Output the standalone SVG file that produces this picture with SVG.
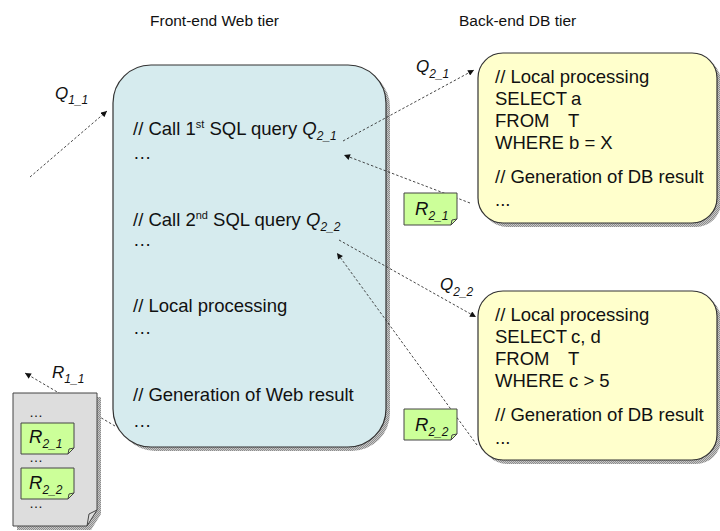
<svg xmlns="http://www.w3.org/2000/svg" width="720" height="531" viewBox="0 0 720 531">
<style>
text{font-family:"Liberation Sans",Arial,sans-serif;fill:#111}
.t{font-size:15.5px}
.b{font-size:18.5px}
.i{font-style:italic}
.sub{font-size:12px;font-style:italic}
.sup{font-size:11px}
.conn{fill:none;stroke:#333;stroke-width:0.9;stroke-dasharray:2.5 2}
.web{fill:#D6EBEE;stroke:#333;stroke-width:1.2}
.db{fill:#FFFFCC;stroke:#333;stroke-width:1.2}
.res{fill:#CCFF99;stroke:#444;stroke-width:1}
.doc{fill:#DDDDDD;stroke:#444;stroke-width:1}
.sh{fill:url(#hatch)}
</style>
<defs>
<pattern id="hatch" width="2" height="2" patternUnits="userSpaceOnUse">
<rect width="2" height="2" fill="#C8C8C8"/>
<rect width="1" height="1" fill="#8C8C8C"/>
<rect x="1" y="1" width="1" height="1" fill="#8C8C8C"/>
</pattern>
<marker id="ah" viewBox="0 0 10 10" refX="10" refY="5" markerWidth="7" markerHeight="6" markerUnits="userSpaceOnUse" orient="auto">
<path d="M0,0 L10,5 L0,10 z" fill="#111"/>
</marker>
</defs>

<g id="titles">
<text class="t" x="150" y="26">Front-end Web tier</text>
<text class="t" x="459" y="26">Back-end DB tier</text>
</g>

<g id="web-tier">
<rect class="sh" x="117" y="69" width="273" height="382" rx="38" ry="38"/>
<rect class="web" x="113" y="65" width="273" height="382" rx="38" ry="38"/>
<text class="b" x="133" y="135">// Call 1<tspan class="sup" dy="-7">st</tspan><tspan dy="7"> SQL query </tspan><tspan class="i">Q</tspan><tspan class="sub" dy="5">2_1</tspan></text>
<text class="b" x="133" y="159">…</text>
<text class="b" x="133" y="226">// Call 2<tspan class="sup" dy="-7">nd</tspan><tspan dy="7"> SQL query </tspan><tspan class="i">Q</tspan><tspan class="sub" dy="5">2_2</tspan></text>
<text class="b" x="133" y="246">…</text>
<text class="b" x="133" y="312">// Local processing</text>
<text class="b" x="133" y="334">…</text>
<text class="b" x="133" y="401">// Generation of Web result</text>
<text class="b" x="133" y="427">…</text>
</g>

<g id="db1">
<rect class="sh" x="482" y="57" width="239" height="170" rx="25" ry="25"/>
<rect class="db" x="478" y="53" width="239" height="170" rx="25" ry="25"/>
<text class="b" x="495" y="83">// Local processing</text>
<text class="b" x="495" y="105">SELECT<tspan x="571">a</tspan></text>
<text class="b" x="495" y="127">FROM<tspan x="568">T</tspan></text>
<text class="b" x="495" y="149">WHERE b = X</text>
<text class="b" x="495" y="183">// Generation of DB result</text>
<text class="b" x="495" y="206">...</text>
</g>

<g id="db2">
<rect class="sh" x="482" y="295" width="239" height="169" rx="25" ry="25"/>
<rect class="db" x="478" y="291" width="239" height="169" rx="25" ry="25"/>
<text class="b" x="495" y="321">// Local processing</text>
<text class="b" x="495" y="343">SELECT<tspan x="571">c, d</tspan></text>
<text class="b" x="495" y="365">FROM<tspan x="568">T</tspan></text>
<text class="b" x="495" y="387">WHERE c &gt; 5</text>
<text class="b" x="495" y="421">// Generation of DB result</text>
<text class="b" x="495" y="444">...</text>
</g>

<g id="connectors">
<line class="conn" x1="30" y1="177" x2="107" y2="111" marker-end="url(#ah)"/>
<line class="conn" x1="343" y1="141" x2="474" y2="70" marker-end="url(#ah)"/>
<line class="conn" x1="470" y1="203" x2="344" y2="155" marker-end="url(#ah)"/>
<line class="conn" x1="339" y1="240" x2="476" y2="317" marker-end="url(#ah)"/>
<line class="conn" x1="477" y1="445" x2="337" y2="253" marker-end="url(#ah)"/>
<line class="conn" x1="115" y1="426" x2="25" y2="373" marker-end="url(#ah)"/>
</g>

<g id="labels">
<text class="b i" x="55" y="99" style="font-size:17px">Q<tspan class="sub" dy="5">1_1</tspan></text>
<text class="b i" x="416" y="72" style="font-size:17px">Q<tspan class="sub" dy="6">2_1</tspan></text>
<text class="b i" x="440" y="290" style="font-size:17px">Q<tspan class="sub" dy="6">2_2</tspan></text>
<text class="b i" x="52" y="378" style="font-size:17px">R<tspan class="sub" dy="5">1_1</tspan></text>
</g>

<g id="r21">
<path class="res" d="M404,193 H457 V219 L451,225 H404 Z"/>
<path d="M457,219 L452,220 L451,225" fill="none" stroke="#444" stroke-width="1"/>
<text class="b i" x="415" y="215">R<tspan class="sub" dy="5">2_1</tspan></text>
</g>

<g id="r22">
<path class="res" d="M404,409 H457 V434 L451,440 H404 Z"/>
<path d="M457,434 L452,435 L451,440" fill="none" stroke="#444" stroke-width="1"/>
<text class="b i" x="415" y="431">R<tspan class="sub" dy="5">2_2</tspan></text>
</g>

<g id="web-result">
<path class="sh" d="M17,397 H101 V514 L91,530 H17 Z"/>
<path class="doc" d="M13,393 H97 V510 L87,526 H13 Z"/>
<path d="M97,510 L89,514 L87,526" fill="none" stroke="#444" stroke-width="1"/>
<text class="b" x="29" y="417" style="font-size:14px">…</text>
<path class="res" d="M21,423 H74 V448 L68,454 H21 Z"/>
<path d="M74,448 L69,449 L68,454" fill="none" stroke="#444" stroke-width="1"/>
<text class="b i" x="29" y="443">R<tspan class="sub" dy="5">2_1</tspan></text>
<text class="b" x="29" y="462" style="font-size:14px">…</text>
<path class="res" d="M21,468 H74 V493 L68,499 H21 Z"/>
<path d="M74,493 L69,494 L68,499" fill="none" stroke="#444" stroke-width="1"/>
<text class="b i" x="29" y="489">R<tspan class="sub" dy="5">2_2</tspan></text>
<text class="b" x="29" y="508" style="font-size:14px">…</text>
</g>
</svg>
